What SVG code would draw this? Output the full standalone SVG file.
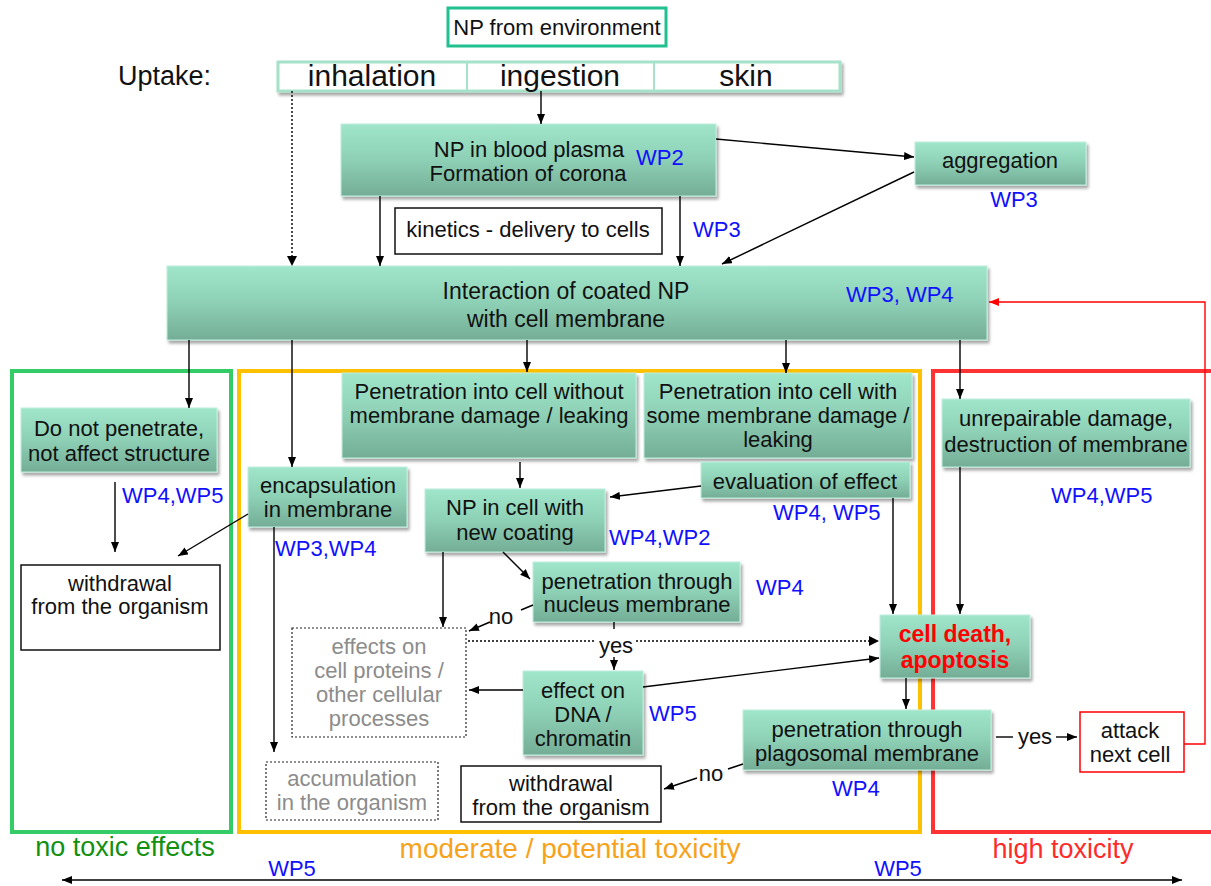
<svg xmlns="http://www.w3.org/2000/svg" width="1211" height="886" viewBox="0 0 1211 886">
<defs>
<linearGradient id="g" x1="0" y1="0" x2="0" y2="1">
<stop offset="0" stop-color="#a0e6cb"/>
<stop offset="0.5" stop-color="#8dd0b5"/>
<stop offset="1" stop-color="#74ad96"/>
</linearGradient>
<filter id="sh" x="-10%" y="-10%" width="130%" height="140%">
<feDropShadow dx="2" dy="3" stdDeviation="1.8" flood-color="#000" flood-opacity="0.35"/>
</filter>
<marker id="a" viewBox="0 0 10 8" refX="10" refY="4" markerWidth="10" markerHeight="8" markerUnits="userSpaceOnUse" orient="auto-start-reverse">
<path d="M0,0 L10,4 L0,8 z" fill="#000"/>
</marker>
<marker id="ar" viewBox="0 0 10 8" refX="10" refY="4" markerWidth="10" markerHeight="8" markerUnits="userSpaceOnUse" orient="auto">
<path d="M0,0 L10,4 L0,8 z" fill="#ff0000"/>
</marker>
</defs>
<style>
text{font-family:"Liberation Sans",Arial,sans-serif;font-size:22px;fill:#111;}
.c{text-anchor:middle;}
.wp{fill:#1010ff;}
.gr{fill:#8c8c8c;}
.n rect{fill:url(#g);stroke:#bfeedd;stroke-width:1;filter:url(#sh);}
.box{fill:#fff;stroke:#111;stroke-width:1.5;}
.dot{fill:#fff;stroke:#222;stroke-width:1.2;stroke-dasharray:2,2;}
.l{fill:none;stroke:#000;stroke-width:1.4;}
.la{fill:none;stroke:#000;stroke-width:1.4;marker-end:url(#a);}
.da{fill:none;stroke:#000;stroke-width:1.4;stroke-dasharray:2,2;}
</style>
<rect width="1211" height="886" fill="#fff"/>

<g id="frames">
<rect x="12" y="371" width="219" height="461" fill="none" stroke="#33cc66" stroke-width="4"/>
<rect x="239" y="371" width="681" height="461" fill="none" stroke="#ffc000" stroke-width="4"/>
<rect x="933" y="371" width="300" height="461" fill="none" stroke="#ff3333" stroke-width="4"/>
</g>

<g id="env">
<rect x="448" y="8" width="218" height="38" fill="#fff" stroke="#20c090" stroke-width="3"/>
<text x="557" y="35" class="c">NP from environment</text>
</g>

<g id="uptake">
<text x="118" y="85" style="font-size:27px">Uptake:</text>
<rect x="278" y="62" width="562" height="29" fill="#fff" stroke="#a6e2ca" stroke-width="3" filter="url(#sh)"/>
<line x1="467" y1="62" x2="467" y2="91" stroke="#a6e2ca" stroke-width="2"/>
<line x1="654" y1="62" x2="654" y2="91" stroke="#a6e2ca" stroke-width="2"/>
<text x="372" y="86" class="c" style="font-size:30px">inhalation</text>
<text x="560" y="86" class="c" style="font-size:30px">ingestion</text>
<text x="746" y="86" class="c" style="font-size:30px">skin</text>
</g>

<g id="blood" class="n">
<rect x="341" y="124" width="375" height="72"/>
<text x="529" y="157" class="c">NP in blood plasma</text>
<text x="528" y="181" class="c">Formation of corona</text>
<text x="636" y="165" class="wp">WP2</text>
</g>

<g id="aggregation" class="n">
<rect x="915" y="142" width="171" height="43"/>
<text x="1000" y="168" class="c">aggregation</text>
<text x="1014" y="207" class="c wp">WP3</text>
</g>

<g id="kinetics">
<rect x="395" y="208" width="267" height="46" class="box"/>
<text x="528" y="237" class="c">kinetics - delivery to cells</text>
<text x="693" y="237" class="wp">WP3</text>
</g>

<g id="interaction" class="n">
<rect x="167" y="266" width="820" height="74"/>
<text x="566" y="299" class="c" style="font-size:23px">Interaction of coated NP</text>
<text x="566" y="327" class="c" style="font-size:23px">with cell membrane</text>
<text x="846" y="302" class="wp">WP3, WP4</text>
</g>

<g id="donot" class="n">
<rect x="21" y="408" width="196" height="64"/>
<text x="119" y="436" class="c">Do not penetrate,</text>
<text x="119" y="461" class="c">not affect structure</text>
</g>
<text x="122" y="503" class="wp">WP4,WP5</text>

<g id="withdraw1">
<rect x="21" y="565" width="199" height="85" class="box"/>
<text x="120" y="591" class="c">withdrawal</text>
<text x="120" y="614" class="c">from the organism</text>
</g>

<g id="encaps" class="n">
<rect x="248" y="467" width="159" height="60"/>
<text x="328" y="493" class="c">encapsulation</text>
<text x="328" y="517" class="c">in membrane</text>
</g>
<text x="275" y="556" class="wp">WP3,WP4</text>

<g id="pen1" class="n">
<rect x="342" y="373" width="294" height="85"/>
<text x="489" y="399" class="c">Penetration into cell without</text>
<text x="489" y="423" class="c">membrane damage / leaking</text>
</g>

<g id="pen2" class="n">
<rect x="644" y="373" width="268" height="85"/>
<text x="778" y="399" class="c">Penetration into cell with</text>
<text x="778" y="423" class="c">some membrane damage /</text>
<text x="778" y="447" class="c">leaking</text>
</g>

<g id="npcell" class="n">
<rect x="425" y="489" width="180" height="63"/>
<text x="515" y="515" class="c">NP in cell with</text>
<text x="515" y="540" class="c">new coating</text>
</g>
<text x="609" y="545" class="wp">WP4,WP2</text>

<g id="eval" class="n">
<rect x="701" y="462" width="209" height="36"/>
<text x="805" y="489" class="c">evaluation of effect</text>
</g>
<text x="773" y="520" class="wp">WP4, WP5</text>

<g id="nucleus" class="n">
<rect x="533" y="562" width="207" height="60"/>
<text x="637" y="589" class="c">penetration through</text>
<text x="637" y="612" class="c">nucleus membrane</text>
</g>
<text x="756" y="595" class="wp">WP4</text>

<g id="effects">
<rect x="292" y="628" width="174" height="109" class="dot"/>
<text x="379" y="654" class="c gr">effects on</text>
<text x="379" y="678" class="c gr">cell proteins /</text>
<text x="379" y="702" class="c gr">other cellular</text>
<text x="379" y="726" class="c gr">processes</text>
</g>

<g id="accum">
<rect x="266" y="762" width="172" height="58" class="dot"/>
<text x="352" y="786" class="c gr">accumulation</text>
<text x="352" y="810" class="c gr">in the organism</text>
</g>

<g id="dna" class="n">
<rect x="523" y="671" width="120" height="84"/>
<text x="583" y="698" class="c">effect on</text>
<text x="583" y="722" class="c">DNA /</text>
<text x="583" y="746" class="c">chromatin</text>
</g>
<text x="649" y="721" class="wp">WP5</text>

<g id="celldeath" class="n">
<rect x="880" y="615" width="150" height="63"/>
<text x="955" y="642" class="c" style="fill:#ff0000;font-weight:bold;font-size:23px">cell death,</text>
<text x="955" y="668" class="c" style="fill:#ff0000;font-weight:bold;font-size:23px">apoptosis</text>
</g>

<g id="unrep" class="n">
<rect x="942" y="399" width="248" height="68"/>
<text x="1066" y="426" class="c">unrepairable damage,</text>
<text x="1066" y="452" class="c">destruction of membrane</text>
</g>
<text x="1051" y="503" class="wp">WP4,WP5</text>

<g id="plago" class="n">
<rect x="743" y="710" width="248" height="60"/>
<text x="867" y="737" class="c">penetration through</text>
<text x="867" y="761" class="c">plagosomal membrane</text>
</g>
<text x="832" y="796" class="wp">WP4</text>

<g id="withdraw2">
<rect x="461" y="766" width="200" height="56" class="box"/>
<text x="561" y="791" class="c">withdrawal</text>
<text x="561" y="815" class="c">from the organism</text>
</g>

<g id="attack">
<rect x="1080" y="712" width="104" height="60" fill="#fff" stroke="#ff0000" stroke-width="1.5"/>
<text x="1130" y="738" class="c">attack</text>
<text x="1130" y="762" class="c">next cell</text>
</g>

<g id="labels">
<text x="125" y="856" class="c" style="fill:#119011;font-size:27px">no toxic effects</text>
<text x="570" y="858" class="c" style="fill:#f7a21b;font-size:28px">moderate / potential toxicity</text>
<text x="1063" y="858" class="c" style="fill:#ff2a2a;font-size:27px">high toxicity</text>
<text x="292" y="876" class="c wp">WP5</text>
<text x="898" y="876" class="c wp">WP5</text>
</g>

<g id="connectors">
<path class="la" d="M541,91 V124"/>
<path class="da" d="M292,91 V258"/>
<path d="M287,256 L297,256 L292,266 z" fill="#000"/>
<path class="la" d="M716,139 L914,157"/>
<path class="la" d="M914,172 L722,264"/>
<path class="la" d="M380,196 V266"/>
<path class="la" d="M680,196 V266"/>
<path class="la" d="M189,340 V408"/>
<path class="la" d="M292,340 V467"/>
<path class="la" d="M527,340 V372"/>
<path class="la" d="M786,340 V373"/>
<path class="la" d="M960,340 V399"/>
<path class="la" d="M115,482 V552"/>
<path class="la" d="M248,514 L178,556"/>
<path class="la" d="M274,527 V752"/>
<path class="la" d="M520,462 V488"/>
<path class="la" d="M701,486 L610,497"/>
<path class="la" d="M893,498 V614"/>
<path class="la" d="M503,552 L530,579"/>
<path class="la" d="M443,552 V627"/>
<path class="l" d="M533,605 L521,610"/>
<text x="501" y="624" class="c">no</text>
<path class="la" d="M490,622 L469,631"/>
<path class="l" d="M614,622 V629"/>
<path class="da" d="M468,641 H596"/>
<path class="da" d="M636,641 H870"/>
<path d="M869,636 L879,641 L869,646 z" fill="#000"/>
<text x="616" y="653" class="c">yes</text>
<path class="la" d="M614,657 V670"/>
<path class="la" d="M523,690 H469"/>
<path class="la" d="M643,687 L879,658"/>
<path class="la" d="M960,467 V614"/>
<path class="la" d="M906,678 V709"/>
<path class="l" d="M996,737 H1013"/>
<text x="1035" y="744" class="c">yes</text>
<path class="la" d="M1056,737 H1077"/>
<path class="l" d="M743,764 L728,769"/>
<text x="711" y="781" class="c">no</text>
<path class="la" d="M697,778 L664,789"/>
<path d="M1184,744 H1205 V302 H989" fill="none" stroke="#ff0000" stroke-width="1.4" marker-end="url(#ar)"/>
<path d="M62,880 H1182" fill="none" stroke="#000" stroke-width="1.6" marker-start="url(#a)" marker-end="url(#a)"/>
</g>
</svg>
